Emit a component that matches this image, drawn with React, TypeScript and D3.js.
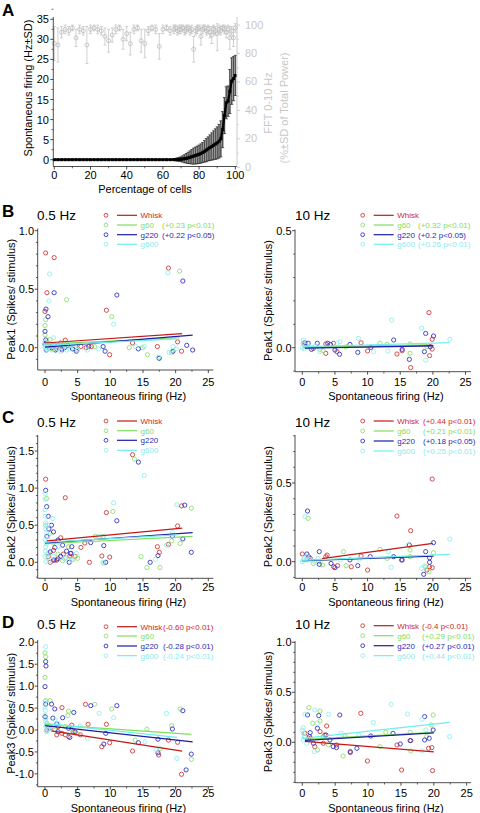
import React from "react";
import * as d3 from "d3";

type Pt = [number, number];
type Fit = [number, number, number, number];

const FONT = "'Liberation Sans', Arial, Helvetica, sans-serif";

// ---------- Panel A data ----------
const pctA = [0,2,4,6,8,10,12,14,16,18,20,22,24,26,28,30,32,34,36,38,40,42,44,46,48,50,52,54,56,58,60,62,64,
  66,67,68,69,70,71,72,73,74,75,76,77,78,79,80,81,82,83,84,85,86,87,88,89,90,91,92,93,94,95,96,97,98,99,100];
const fireA = [0,0,0,0,0,0,0,0,0,0,0,0,0,0,0,0,0,0,0,0,0,0,0,0,0,0,0,0,0,0,0,0,0,
  0.02,0.03,0.05,0.08,0.12,0.18,0.25,0.35,0.45,0.6,0.75,0.9,1.05,1.2,1.35,1.55,1.8,2.1,2.4,2.7,3.0,3.3,3.6,3.9,4.2,4.6,5.2,7.5,11.0,14.2,14.6,17.0,19.6,20.2,21.0];
const fireSD = [0,0,0,0,0,0,0,0,0,0,0,0,0,0,0,0,0,0,0,0,0,0,0,0,0,0,0,0,0,0,0,0,0,
  0.2,0.3,0.4,0.5,0.6,0.8,1.0,1.2,1.4,1.6,1.8,2.0,2.1,2.2,2.3,2.4,2.5,2.7,2.9,3.0,3.2,3.4,3.6,3.8,4.0,4.2,4.5,4.5,4.5,4.0,3.8,5.5,5.8,5.5,5.0];
const fftA = [87,86,95,97,96,98,91,97,96,86,97,98,97,96,92,89,93,97,98,90,94,87,97,98,89,87,96,98,97,85,97,98,96,
  97,98,96,97,97,98,96,97,98,96,97,83,96,97,98,92,97,98,96,97,95,93,97,96,94,97,96,98,97,95,97,91,96,91,98];
const fftSD = [12,12,4,3,3,2,6,3,3,13,3,2,3,3,6,8,5,3,2,7,5,8,3,2,8,10,3,2,3,9,3,2,3,
  3,2,3,3,3,2,3,3,2,3,3,9,3,3,2,6,3,2,3,3,4,6,3,3,12,3,3,2,3,4,3,8,3,6,3];
const xTicksA = [0,20,40,60,80,100];
const yTicksLeftA = [0,5,10,15,20,25,30,35];
const yTicksRightA = [0,20,40,60,80,100];

// ---------- Scatter panels data ----------
const seriesNames = ["Whisk","g60","g220","g600"];
const xTicksS = [0,5,10,15,20,25];

// B 0.5 Hz (Peak1)
const b05Whisk: Pt[] = [[0.1,0.81],[1.4,0.77],[0.3,0.47],[0.0,0.31],[0.2,0.04],[0.8,0.01],[1.8,-0.01],[2.4,0.04],[2.6,-0.02],[3.1,0.065],[3.5,0.02],[4.7,0.01],[5.5,0.01],[6.3,0.0],[7.1,0.01],[9.4,0.32],[9.9,-0.06],[13.4,0.04],[17.2,0.01],[18.9,0.68],[20.3,0.05],[20.9,-0.03],[0.5,0.0],[1.2,0.02]];
const b05G60: Pt[] = [[0.1,0.24],[0.0,0.19],[0.0,0.11],[0.8,0.07],[1.5,0.03],[2.2,0.0],[3.3,0.41],[4.0,0.01],[4.9,-0.02],[7.6,0.01],[10.2,0.265],[12.9,0.0],[14.9,0.0],[15.7,-0.06],[17.4,-0.09],[19.4,-0.04],[20.6,0.655],[1.0,-0.01],[2.8,0.02]];
const b05G220: Pt[] = [[0.15,0.33],[0.46,0.265],[1.4,0.47],[0.0,0.14],[0.1,0.066],[0.3,0.02],[1.0,0.0],[2.0,0.02],[3.5,0.02],[4.2,-0.01],[6.7,0.01],[8.9,0.01],[9.2,-0.03],[11.0,0.45],[14.3,-0.01],[17.5,-0.09],[19.6,-0.03],[21.1,0.57],[21.7,0.02],[22.6,-0.02],[0.6,0.03],[2.6,-0.01],[0.0,0.03],[0.2,-0.02],[1.6,-0.02],[3.0,0.0],[4.8,-0.03]];
const b05G600: Pt[] = [[0.7,0.63],[0.6,0.40],[1.3,0.085],[0.0,0.05],[0.2,0.02],[0.4,0.0],[0.8,0.03],[1.5,0.01],[2.0,-0.01],[2.5,0.0],[3.0,0.02],[3.8,-0.01],[4.5,0.0],[6.5,-0.02],[8.2,-0.01],[10.5,0.2],[13.9,0.01],[15.2,0.01],[17.4,-0.08],[18.8,0.64],[19.6,0.01],[19.0,-0.04],[20.1,-0.01],[0.1,0.01],[0.3,-0.01],[0.0,0.0],[0.1,-0.02],[0.5,0.04],[1.0,-0.02],[1.8,0.02],[2.3,-0.03],[3.3,-0.02],[4.1,0.02],[5.0,-0.02]];
const b05Fits: Fit[] = [[0,0.04,21,0.12],[0,0.03,20.6,0.085],[0,0.005,22.6,0.108],[0,0.02,20.1,0.075]];
const b05Stats = ["", "(+0.23 p<0.01)", "(+0.22 p<0.05)", ""];

// B 10 Hz (Peak1)
const b10Whisk: Pt[] = [[19.4,0.15],[19.9,0.036],[19.5,-0.034],[19.9,-0.006],[14.5,-0.027],[15.3,-0.013],[16.6,-0.085],[10.0,-0.014],[9.0,0.021],[4.8,0.019],[3.6,0.016],[3.6,-0.024],[5.3,-0.017],[1.7,-0.003],[0.4,0.011]];
const b10G60: Pt[] = [[0.15,0.019],[3.2,-0.013],[6.7,0.004],[11.9,0.019],[13.0,0.014],[16.5,0.016],[16.5,-0.024],[19.1,0.004],[2.7,-0.007],[0.7,0.004]];
const b10G220: Pt[] = [[0.4,0.021],[0.9,0.019],[2.3,0.019],[3.9,0.019],[4.3,0.014],[5.0,-0.01],[5.7,-0.028],[7.3,0.014],[8.5,-0.02],[10.5,0.001],[14.0,0.033],[15.3,-0.007],[16.4,-0.05],[18.7,-0.017],[18.9,0.061],[20.1,0.05],[19.6,0.004],[1.4,-0.007]];
const b10G600: Pt[] = [[0.15,0.033],[0.5,0.011],[1.2,0.004],[5.8,0.026],[5.3,0.019],[8.6,0.04],[10.9,-0.017],[13.7,0.118],[13.1,-0.014],[18.3,0.083],[18.9,-0.053],[22.6,0.036],[2.7,-0.017],[1.9,0.007],[0.0,0.0],[0.3,-0.005]];
const b10Fits: Fit[] = [[0.4,0.0,20,0.01],[0.15,0.0,19.1,0.012],[0.4,-0.002,20.1,0.008],[0,0.004,22.6,0.022]];
const b10Stats = ["", "(+0.32 p<0.01)", "(+0.2 p<0.05)", "(+0.26 p<0.01)"];

// C 0.5 Hz (Peak2)
const c05Whisk: Pt[] = [[0.1,1.12],[3.1,0.87],[2.4,0.33],[9.4,0.67],[13.4,1.45],[20.3,0.49],[20.9,0.76],[18.9,0.24],[17.2,0.21],[17.5,0.135],[8.7,0.085],[9.9,0.07],[6.8,0.0],[5.5,0.2],[6.1,0.26],[3.8,0.085],[4.6,0.08],[1.3,0.16],[2.8,0.11],[0.8,0.0],[2.0,0.05],[0.5,0.075],[4.0,0.12],[1.5,0.03]];
const c05G60: Pt[] = [[0.25,0.86],[10.4,0.685],[13.7,1.39],[22.4,0.73],[20.7,0.255],[19.4,0.29],[14.7,0.077],[15.6,-0.07],[17.6,-0.07],[8.9,0.35],[7.7,0.35],[5.0,0.054],[3.6,0.21],[2.7,0.02],[1.3,0.26],[0.8,0.39],[0.5,0.12],[2.0,0.11],[0.1,0.5],[3.2,0.06],[4.3,0.04],[9.0,-0.01]];
const c05G220: Pt[] = [[0.1,0.97],[0.25,0.75],[0.5,0.62],[1.0,0.5],[1.3,0.41],[2.0,0.3],[11.0,0.56],[14.3,1.35],[21.4,0.77],[21.1,0.315],[19.5,0.355],[22.4,0.135],[17.3,0.09],[16.1,0.0],[9.0,0.225],[9.3,0.0],[7.0,0.265],[4.1,0.21],[3.7,0.0],[2.7,0.23],[3.3,0.15],[1.8,0.03],[0.8,0.14],[1.3,0.03],[0.3,0.35],[0.6,0.45],[1.5,0.2],[2.4,0.08],[3.9,0.12]];
const c05G600: Pt[] = [[0,0.93],[0,0.71],[0.1,0.53],[0.25,0.39],[0.1,0.21],[0,0.08],[0.15,0.01],[1.2,0.59],[0.5,0.3],[10.5,0.8],[15.2,1.17],[20.2,0.775],[8.3,0.35],[8.9,0.0],[16.9,0.04],[18.6,0.23],[19.5,0.4],[4.8,0.12],[2.0,0.21],[1.3,0.08],[0,0.85],[0.05,0.62],[0.1,0.45],[0,0.3],[0.05,0.15],[0.2,0.25],[0.3,0.1],[0.4,0.5],[0.6,0.02],[3.0,0.05],[4.1,0.03]];
const c05Fits: Fit[] = [[0.3,0.29,21,0.46],[0,0.25,22.6,0.35],[0,0.26,22.6,0.40],[0,0.27,20.2,0.37]];
const c05Stats = ["", "", "", ""];

// C 10 Hz (Peak2)
const c10Whisk: Pt[] = [[0,0.049],[3.6,0.032],[3.8,0.042],[4.8,-0.032],[5.4,-0.025],[7.5,-0.032],[9.0,0.036],[10.0,-0.053],[14.5,0.29],[16.6,0.197],[15.2,0.011],[19.9,0.525],[19.5,-0.032],[19.9,-0.038],[19.1,-0.053],[1.0,0.03]];
const c10G60: Pt[] = [[0.9,0.275],[3.1,-0.021],[6.3,0.064],[6.7,-0.025],[11.9,0.078],[13.0,0.021],[16.5,0.074],[16.5,0.032],[20.1,0.057],[19.4,-0.064],[18.9,-0.032],[1.7,-0.011],[0.7,0.011],[2.5,0.0]];
const c10G220: Pt[] = [[0.8,0.322],[0.7,0.049],[1.2,0.021],[2.6,0.064],[2.6,-0.017],[4.4,-0.011],[5.0,-0.038],[7.3,0.011],[8.5,-0.025],[10.4,0.032],[14.0,0.032],[15.3,0.011],[16.4,0.106],[18.9,0.064],[20.1,0.121],[18.6,-0.08],[19.5,-0.004],[19.5,0.025]];
const c10G600: Pt[] = [[0.4,0.286],[0.15,0.011],[0.7,0.032],[1.9,0.0],[5.8,0.011],[8.7,0.015],[13.2,0.064],[13.6,-0.036],[16.2,0.106],[18.3,-0.042],[18.7,-0.028],[22.6,0.144],[1.2,0.015],[0,0.0],[0.3,0.02],[2.4,0.02]];
const c10Fits: Fit[] = [[3.0,0.02,20,0.117],[0,0.005,20.1,0.04],[0,0.006,20.1,0.035],[0,0.008,22.6,0.046]];
const c10Stats = ["(+0.44 p<0.01)", "(+0.21 p<0.01)", "(+0.18 p<0.05)", "(+0.25 p<0.01)"];

// D 0.5 Hz (Peak3)
const d05Whisk: Pt[] = [[0.8,0.04],[1.8,-0.11],[2.6,-0.076],[3.1,-0.11],[3.6,-0.15],[4.3,-0.04],[4.1,0.11],[5.4,-0.11],[2.0,0.076],[2.6,0.51],[6.2,0.585],[6.6,0.13],[9.4,0.13],[9.9,-0.29],[8.7,-0.38],[13.4,-0.48],[17.4,-0.57],[18.9,-0.23],[20.3,-0.28],[20.9,-1.01],[0.3,0.0]];
const d05G60: Pt[] = [[0.0,1.76],[0.1,1.67],[0.0,1.2],[0.1,0.67],[0.8,0.67],[3.6,0.43],[3.5,0.33],[7.6,0.585],[10.2,0.48],[13.8,-0.23],[15.6,0.02],[17.6,-0.43],[19.4,0.1],[20.7,0.48],[22.4,-0.67],[0.3,0.15],[1.5,0.0],[3.1,0.076],[4.1,0.04],[4.8,-0.076],[0.1,0.3]];
const d05G220: Pt[] = [[0.1,1.56],[0.15,1.46],[0.0,0.99],[0.1,0.59],[1.0,0.59],[1.5,0.48],[1.2,0.27],[2.7,0.28],[4.4,0.40],[7.0,0.555],[11.0,0.555],[9.3,-0.076],[9.0,-0.32],[14.3,-0.29],[17.3,-0.21],[17.3,-0.52],[19.5,0.023],[21.1,0.44],[21.6,-0.91],[22.4,-0.55],[1.8,0.14],[3.6,0.04],[3.8,-0.17],[4.6,-0.04],[2.0,-0.04],[0.5,0.04],[0.0,0.3]];
const d05G600: Pt[] = [[0.1,1.9],[0.0,0.53],[0.0,0.34],[0.1,0.19],[0.15,0.08],[0.25,-0.04],[0.8,0.08],[1.5,0.23],[2.0,0.15],[3.6,-0.11],[6.5,-0.19],[5.4,0.09],[8.3,0.38],[10.5,0.28],[15.3,-0.27],[18.6,0.38],[20.2,-0.65],[0.0,0.65],[0.05,0.45],[0.1,0.25],[0.2,0.1],[0.4,0.0],[1.0,0.02],[17.0,-0.45]];
const d05Fits: Fit[] = [[1.0,-0.02,21,-0.48],[0,0.13,22.4,-0.1],[0,0.1,22.6,-0.27],[0,0.15,20.2,-0.17]];
const d05Stats = ["(-0.60 p<0.01)", "", "(-0.28 p<0.01)", "(-0.24 p<0.01)"];

// D 10 Hz (Peak3)
const d10Whisk: Pt[] = [[3.7,0.163],[8.9,0.29],[9.9,-0.187],[15.1,-0.277],[19.8,-0.283],[16.5,0.017],[14.4,-0.027],[19.2,-0.06],[19.7,-0.053],[7.3,-0.103],[5.2,-0.027],[3.4,0.073],[2.7,0.107],[1.9,-0.043],[1.2,0.04],[0.4,0.09],[3.2,-0.01]];
const d10G60: Pt[] = [[1.0,0.347],[2.7,0.313],[2.7,0.213],[1.6,0.19],[19.9,0.273],[19.6,0.173],[18.9,0.057],[16.4,0.1],[16.5,-0.087],[11.8,-0.043],[12.7,0.1],[6.2,-0.137],[6.5,0.063],[4.0,-0.027],[2.3,-0.077],[3.2,0.057],[0.4,0.057]];
const d10G220: Pt[] = [[0.8,0.273],[2.5,0.267],[5.7,0.273],[2.3,0.14],[3.6,0.073],[1.1,0.057],[1.2,0.097],[4.2,0.023],[4.7,-0.043],[5.2,-0.053],[7.3,-0.093],[8.3,-0.06],[10.4,0.063],[13.8,0.09],[14.9,-0.017],[16.4,0.017],[18.6,0.257],[18.6,0.023],[19.3,0.04],[19.9,0.123],[1.7,-0.01]];
const d10G600: Pt[] = [[0.15,0.147],[0.4,0.28],[1.9,0.323],[2.3,0.19],[4.0,0.28],[1.8,-0.093],[5.9,0.09],[8.6,0.073],[10.8,0.197],[13.5,0.38],[16.0,0.283],[18.2,0.23],[18.8,0.123],[22.4,0.057],[18.2,-0.087],[0.15,0.09],[0.15,0.023],[0.7,-0.01],[0.0,0.12],[0.3,0.05]];
const d10Fits: Fit[] = [[0.4,0.01,20,-0.095],[0.4,0.03,20,0.1],[0.4,0.02,20,0.095],[0,0.04,22.4,0.2]];
const d10Stats = ["(-0.4 p<0.01)", "(+0.29 p<0.01)", "(+0.27 p<0.01)", "(+0.44 p<0.01)"];

// ---------- styles ----------
const markerColors = ["#d23a3a", "#8fe070", "#3434c4", "#92eef0"];
const lineColors = ["#c41818", "#7fe05a", "#1c1ca8", "#6eeef0"];
const textColors = ["#d02828", "#84dc60", "#2a2ab8", "#8ceaf0"];

interface PanelSpec {
  letter?: string;
  letterY: number;
  title: string;
  yLabel: string;
  xPx: [number, number];
  yDom: [number, number];
  yPx: [number, number];
  axisLeft: number; axisRight: number; axisTop: number; axisBottom: number;
  yTicks: number[]; yTickLabels: string[]; yMinorStep: number;
  xTickBase: number; xTitleBase: number;
  yTickX: number; yTitleX: number;
  titleX: number; titleBase: number;
  legX: number; legRows: number[]; statsX: number; stats: string[];
  series: Pt[][]; fits: Fit[];
}

function ScatterPanel({ s }: { s: PanelSpec }) {
  const x = d3.scaleLinear().domain([0, 25]).range(s.xPx);
  const y = d3.scaleLinear().domain(s.yDom).range(s.yPx);
  const yMin = y.invert(s.axisBottom);
  const yMax = y.invert(s.axisTop);
  const minorY = d3.range(Math.ceil(yMin / s.yMinorStep) * s.yMinorStep, yMax + 1e-9, s.yMinorStep)
    .filter(v => !s.yTicks.some(t => Math.abs(t - v) < 1e-6));
  const minorX = [2.5, 7.5, 12.5, 17.5, 22.5];
  const line = d3.line<Pt>().x(d => x(d[0])).y(d => y(d[1]));
  const midY = (s.axisTop + s.axisBottom) / 2;
  const midX = (s.axisLeft + s.axisRight) / 2 + 3;
  const ax = "#222";
  return (
    <g fontFamily={FONT}>
      {s.letter && <text x={2} y={s.letterY} fontSize={17} fontWeight="bold">{s.letter}</text>}
      <text x={s.titleX} y={s.titleBase} fontSize={13.5}>{s.title}</text>
      <line x1={s.axisLeft} x2={s.axisLeft} y1={s.axisTop} y2={s.axisBottom} stroke={ax} strokeWidth={0.8} />
      <line x1={s.axisLeft} x2={s.axisRight} y1={s.axisBottom} y2={s.axisBottom} stroke={ax} strokeWidth={0.8} />
      {s.yTicks.map((t, i) => (
        <g key={"yt" + i}>
          <line x1={s.axisLeft - 3} x2={s.axisLeft} y1={y(t)} y2={y(t)} stroke={ax} strokeWidth={0.8} />
          <text x={s.yTickX} y={y(t) + 4} fontSize={11} textAnchor="end">{s.yTickLabels[i]}</text>
        </g>
      ))}
      {minorY.map((t, i) => (
        <line key={"ym" + i} x1={s.axisLeft - 1.8} x2={s.axisLeft} y1={y(t)} y2={y(t)} stroke={ax} strokeWidth={0.7} />
      ))}
      {xTicksS.map((t, i) => (
        <g key={"xt" + i}>
          <line x1={x(t)} x2={x(t)} y1={s.axisBottom} y2={s.axisBottom + 3} stroke={ax} strokeWidth={0.8} />
          <text x={x(t)} y={s.xTickBase} fontSize={11} textAnchor="middle">{t}</text>
        </g>
      ))}
      {minorX.map((t, i) => (
        <line key={"xm" + i} x1={x(t)} x2={x(t)} y1={s.axisBottom} y2={s.axisBottom + 1.8} stroke={ax} strokeWidth={0.7} />
      ))}
      <text x={midX} y={s.xTitleBase} fontSize={11} textAnchor="middle">Spontaneous firing (Hz)</text>
      <text transform={`translate(${s.yTitleX},${midY}) rotate(-90)`} fontSize={11} textAnchor="middle" dominantBaseline="central">{s.yLabel}</text>
      {s.series.map((pts, si) => (
        <g key={"s" + si}>
          {pts.map((p, j) => (
            <circle key={j} cx={x(p[0])} cy={y(p[1])} r={2.1} fill="none" stroke={markerColors[si]} strokeWidth={0.9} />
          ))}
        </g>
      ))}
      {s.fits.map((f, si) => (
        <path key={"f" + si} d={line([[f[0], f[1]], [f[2], f[3]]]) || ""} stroke={lineColors[si]} strokeWidth={1.2} fill="none" />
      ))}
      {seriesNames.map((n, i) => (
        <g key={"lg" + i}>
          <circle cx={s.legX} cy={s.legRows[i]} r={1.9} fill="none" stroke={markerColors[i]} strokeWidth={0.9} />
          <line x1={s.legX + 11} x2={s.legX + 31} y1={s.legRows[i]} y2={s.legRows[i]} stroke={lineColors[i]} strokeWidth={1.2} />
          <text x={s.legX + 34.5} y={s.legRows[i] + 3} fontSize={8} fill={textColors[i]}>{n}</text>
          {s.stats[i] && <text x={s.statsX} y={s.legRows[i] + 3} fontSize={8} fill={textColors[i]}>{s.stats[i]}</text>}
        </g>
      ))}
    </g>
  );
}

const leftBase = { xPx: [45, 208.3] as [number, number], axisLeft: 37.7, axisRight: 213.3, yTickX: 34, yTitleX: 11, titleX: 37, legX: 106 };
const rightBase = { xPx: [302.3, 465.5] as [number, number], axisLeft: 295, axisRight: 471, yTickX: 291.5, yTitleX: 268, titleX: 295, legX: 362.7 };

const panels: PanelSpec[] = [
  { ...leftBase, letter: "B", letterY: 217, title: "0.5 Hz", titleBase: 220, yLabel: "Peak1 (Spikes/ stimulus)",
    yDom: [0, 1], yPx: [347.7, 230.7], axisTop: 228.5, axisBottom: 370,
    yTicks: [0, 0.5, 1], yTickLabels: ["0.0", "0.5", "1.0"], yMinorStep: 0.1,
    xTickBase: 385.5, xTitleBase: 399.5, legRows: [215.3, 225, 234.7, 244.3], statsX: 162, stats: b05Stats,
    series: [b05Whisk, b05G60, b05G220, b05G600], fits: b05Fits },
  { ...rightBase, letterY: 0, title: "10 Hz", titleBase: 220, yLabel: "Peak1 (Spikes/ stimulus)",
    yDom: [0, 0.5], yPx: [347.7, 230.7], axisTop: 229.5, axisBottom: 371.7,
    yTicks: [0, 0.5], yTickLabels: ["0.0", "0.5"], yMinorStep: 0.1,
    xTickBase: 385.5, xTitleBase: 399.5, legRows: [215.3, 225, 234.7, 244.3], statsX: 418, stats: b10Stats,
    series: [b10Whisk, b10G60, b10G220, b10G600], fits: b10Fits },
  { ...leftBase, letter: "C", letterY: 423, title: "0.5 Hz", titleBase: 426.5, yLabel: "Peak2 (Spikes/ stimulus)",
    yDom: [0, 1.5], yPx: [562.3, 451], axisTop: 435, axisBottom: 578.3,
    yTicks: [0, 0.5, 1, 1.5], yTickLabels: ["0.0", "0.5", "1.0", "1.5"], yMinorStep: 0.1,
    xTickBase: 591, xTitleBase: 605.5, legRows: [421, 430.7, 440.3, 450.3], statsX: 162, stats: c05Stats,
    series: [c05Whisk, c05G60, c05G220, c05G600], fits: c05Fits },
  { ...rightBase, letterY: 0, title: "10 Hz", titleBase: 426.5, yLabel: "Peak2 (Spikes/ stimulus)",
    yDom: [0, 0.5], yPx: [561.7, 483], axisTop: 435, axisBottom: 578.3,
    yTicks: [0, 0.5], yTickLabels: ["0.0", "0.5"], yMinorStep: 0.1,
    xTickBase: 591, xTitleBase: 605.5, legRows: [421, 431, 441, 451], statsX: 423, stats: c10Stats,
    series: [c10Whisk, c10G60, c10G220, c10G600], fits: c10Fits },
  { ...leftBase, letter: "D", letterY: 628, title: "0.5 Hz", titleBase: 629, yLabel: "Peak3 (Spikes/ stimulus)",
    yDom: [0, 2], yPx: [730, 642.3], axisTop: 640, axisBottom: 786.7,
    yTicks: [-1, -0.5, 0, 0.5, 1, 1.5, 2], yTickLabels: ["-1.0", "-0.5", "0.0", "0.5", "1.0", "1.5", "2.0"], yMinorStep: 0.25,
    xTickBase: 796.5, xTitleBase: 811.5, legRows: [626.7, 636, 646, 655.7], statsX: 163, stats: d05Stats,
    series: [d05Whisk, d05G60, d05G220, d05G600], fits: d05Fits },
  { ...rightBase, xPx: [302.3, 466.7], letterY: 0, title: "10 Hz", titleBase: 629, yLabel: "Peak3 (Spikes/ stimulus)",
    yDom: [0, 1], yPx: [742.3, 642.3], axisTop: 641, axisBottom: 782.7,
    yTicks: [0, 0.5, 1], yTickLabels: ["0.0", "0.5", "1.0"], yMinorStep: 0.1,
    xTickBase: 796.5, xTitleBase: 811.5, legRows: [625.7, 635.7, 645.7, 655.7], statsX: 422, stats: d10Stats,
    series: [d10Whisk, d10G60, d10G220, d10G600], fits: d10Fits },
];

function PanelA() {
  const x = d3.scaleLinear().domain([0, 100]).range([54.3, 235.3]);
  const yL = d3.scaleLinear().domain([0, 35]).range([159.7, 19.3]);
  const yR = d3.scaleLinear().domain([0, 100]).range([167.3, 25.1]);
  const left = 53.3, right = 237, top = 17, bottom = 166.5;
  const gray = "#c4c4c4";
  const blackLine = d3.line<number>().x((_, i) => x(pctA[i])).y(d => yL(d));
  return (
    <g fontFamily={FONT}>
      <text x={2} y={16} fontSize={17} fontWeight="bold">A</text>
      {fftA.map((v, i) => {
        const cx = x(pctA[i]);
        const y1 = yR(Math.min(v + fftSD[i], 101));
        const y2 = yR(v - fftSD[i]);
        return (
          <g key={"g" + i}>
            <line x1={cx} x2={cx} y1={y1} y2={y2} stroke={gray} strokeWidth={0.8} />
            <line x1={cx - 1.5} x2={cx + 1.5} y1={y1} y2={y1} stroke={gray} strokeWidth={0.8} />
            <line x1={cx - 1.5} x2={cx + 1.5} y1={y2} y2={y2} stroke={gray} strokeWidth={0.8} />
            <circle cx={cx} cy={yR(v)} r={2} fill="none" stroke="#bdbdbd" strokeWidth={0.8} />
          </g>
        );
      })}
      {fireA.map((v, i) => {
        if (fireSD[i] <= 0) return null;
        const cx = x(pctA[i]);
        const y1 = yL(v + fireSD[i]);
        const y2 = yL(Math.max(v - fireSD[i], -1.5));
        return (
          <g key={"e" + i}>
            <rect x={cx - 0.9} y={y1} width={1.8} height={y2 - y1} fill="#8a8a8a" />
            <line x1={cx} x2={cx} y1={y1} y2={y2} stroke="#222" strokeWidth={0.6} />
            <line x1={cx - 1.6} x2={cx + 1.6} y1={y1} y2={y1} stroke="#222" strokeWidth={0.7} />
            <line x1={cx - 1.6} x2={cx + 1.6} y1={y2} y2={y2} stroke="#222" strokeWidth={0.7} />
          </g>
        );
      })}
      <path d={blackLine(fireA) || ""} stroke="#000" strokeWidth={2.2} fill="none" />
      {fireA.map((v, i) => (
        <rect key={"m" + i} x={x(pctA[i]) - 1.5} y={yL(v) - 1.5} width={3} height={3} fill="#000" />
      ))}
      <line x1={left} x2={left} y1={top} y2={bottom} stroke="#222" strokeWidth={0.8} />
      <line x1={left} x2={right} y1={bottom} y2={bottom} stroke="#222" strokeWidth={0.8} />
      <line x1={right} x2={right} y1={top} y2={bottom} stroke={gray} strokeWidth={0.9} />
      {yTicksLeftA.map((t) => (
        <g key={"l" + t}>
          <line x1={left - 3} x2={left} y1={yL(t)} y2={yL(t)} stroke="#222" strokeWidth={0.8} />
          <line x1={left - 1.8} x2={left} y1={yL(t + 2.5)} y2={yL(t + 2.5)} stroke="#222" strokeWidth={0.7} />
          <text x={49} y={yL(t) + 4} fontSize={11} textAnchor="end">{t}</text>
        </g>
      ))}
      {yTicksRightA.map((t) => (
        <g key={"r" + t}>
          <line x1={right} x2={right + 3} y1={yR(t)} y2={yR(t)} stroke={gray} strokeWidth={0.8} />
          {t < 100 && <line x1={right} x2={right + 1.8} y1={yR(t + 10)} y2={yR(t + 10)} stroke={gray} strokeWidth={0.7} />}
          <text x={245} y={yR(t) + 3.5} fontSize={11} fill="#c8c8c8">{t}</text>
        </g>
      ))}
      {xTicksA.map((t) => (
        <g key={"x" + t}>
          <line x1={x(t)} x2={x(t)} y1={bottom} y2={bottom + 3} stroke="#222" strokeWidth={0.8} />
          {t < 100 && <line x1={x(t + 10)} x2={x(t + 10)} y1={bottom} y2={bottom + 1.8} stroke="#222" strokeWidth={0.7} />}
          <text x={x(t)} y={179} fontSize={11} textAnchor="middle">{t}</text>
        </g>
      ))}
      <text x={145} y={192.5} fontSize={11} textAnchor="middle">Percentage of cells</text>
      <text transform={`translate(28,88) rotate(-90)`} fontSize={11} textAnchor="middle" dominantBaseline="central">Spontaneous firing (Hz±SD)</text>
      <text transform={`translate(267.5,103) rotate(-90)`} fontSize={11} textAnchor="middle" dominantBaseline="central" fill="#c8c8c8">FFT 0-10 Hz</text>
      <text transform={`translate(284,108) rotate(-90)`} fontSize={11} textAnchor="middle" dominantBaseline="central" fill="#c8c8c8">(%±SD of Total Power)</text>
    </g>
  );
}

export default function App() {
  return (
    <svg width={480} height={813} viewBox="0 0 480 813" style={{ position: "absolute", left: 0, top: 0, background: "#fff" }}>
      <rect x={0} y={0} width={480} height={813} fill="#fff" />
      <PanelA />
      {panels.map((p, i) => <ScatterPanel key={i} s={p} />)}
    </svg>
  );
}
